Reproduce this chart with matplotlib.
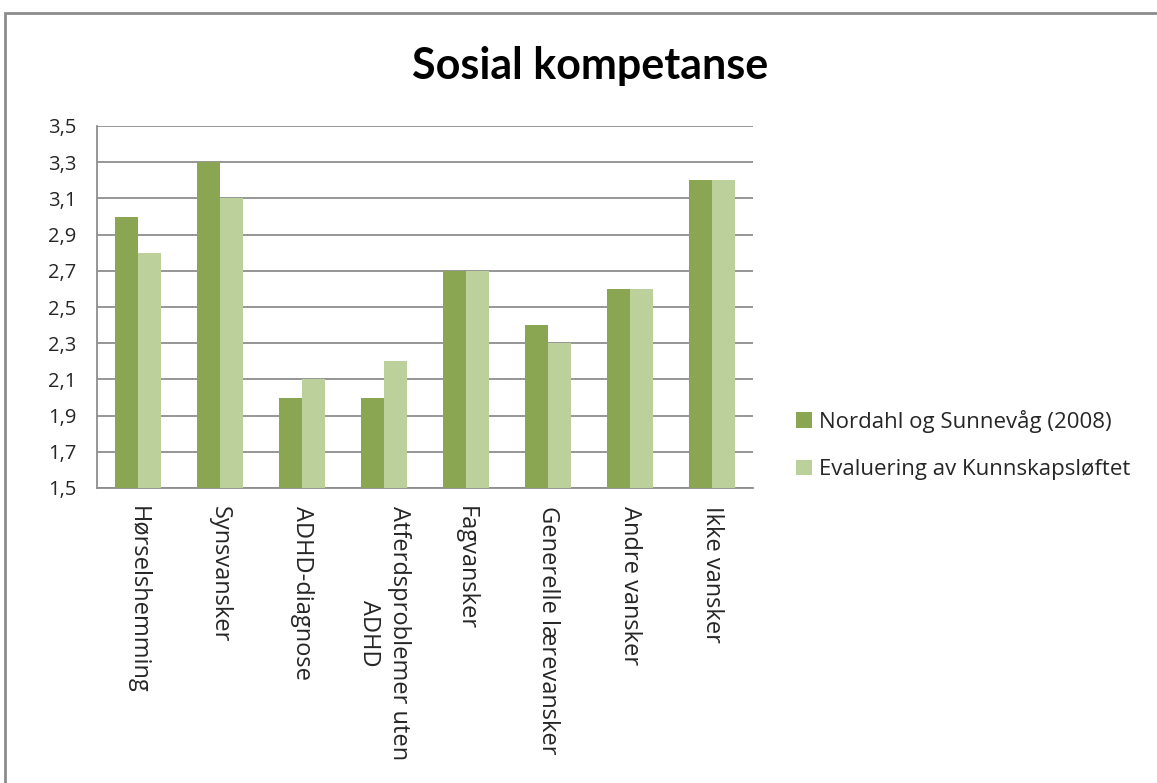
import numpy as np
import matplotlib.pyplot as plt
from matplotlib.patches import Rectangle

plt.rcParams['font.family'] = ['Open Sans', 'DejaVu Sans']

categories = ['Hørselshemming', 'Synsvansker', 'ADHD-diagnose',
              'Atferdsproblemer uten\nADHD', 'Fagvansker',
              'Generelle lærevansker', 'Andre vansker', 'Ikke vansker']
nordahl = [3.0, 3.3, 2.0, 2.0, 2.7, 2.4, 2.6, 3.2]
evaluering = [2.8, 3.1, 2.1, 2.2, 2.7, 2.3, 2.6, 3.2]
series_names = ['Nordahl og Sunnevåg (2008)', 'Evaluering av Kunnskapsløftet']
yticks = [1.5, 1.7, 1.9, 2.1, 2.3, 2.5, 2.7, 2.9, 3.1, 3.3, 3.5]

dark = '#8BA652'
light = '#BBD09A'
grid_c = '#8E8E8E'
text_c = '#262626'

fig = plt.figure(figsize=(11.57, 7.83), dpi=100)
# outer chart frame (cut off at right / bottom like the screenshot)
fig.patches.append(Rectangle((5 / 1157, -0.05), 1.2, 1 - 13 / 783 + 0.05,
                             transform=fig.transFigure, fill=False,
                             edgecolor='#8C8C8C', linewidth=2))

ax = fig.add_axes([97 / 1157, 1 - 488 / 783, (753 - 97) / 1157, (488 - 126) / 783])

x = np.arange(len(categories))
w = 0.28
ax.bar(x - w / 2, nordahl, w, color=dark, label=series_names[0], zorder=3)
ax.bar(x + w / 2, evaluering, w, color=light, label=series_names[1], zorder=3)

ax.set_xlim(-0.5, len(categories) - 0.5)
ax.set_ylim(1.5, 3.5)
ax.set_yticks(yticks)
ax.set_yticklabels([f'{v:.1f}'.replace('.', ',') for v in yticks])
ax.yaxis.grid(True, color=grid_c, linewidth=1.3, zorder=0)
ax.set_axisbelow(True)

ax.set_xticks(x)
ax.set_xticklabels(categories, rotation=270, ha='center', va='top',
                   multialignment='center', linespacing=1.3)
ax.tick_params(axis='both', length=0, colors=text_c)
ax.tick_params(axis='x', pad=13, labelsize=17)
ax.tick_params(axis='y', pad=15, labelsize=14.5)

for s in ['top', 'right']:
    ax.spines[s].set_visible(False)
for s in ['left', 'bottom']:
    ax.spines[s].set_color(grid_c)
    ax.spines[s].set_linewidth(1.3)

fig.text(590 / 1157, 1 - 66 / 783, 'Sosial kompetanse', ha='center', va='center',
         family=['Lato', 'DejaVu Sans'], fontsize=31, fontweight='bold',
         color='black')

fig.legend(loc='center left', bbox_to_anchor=(776 / 1157, 1 - 445 / 783),
           frameon=False, fontsize=16, handlelength=0.7, handleheight=0.7,
           handletextpad=0.35, labelspacing=1.2, labelcolor=text_c)

fig.savefig('out.png', dpi=100)
